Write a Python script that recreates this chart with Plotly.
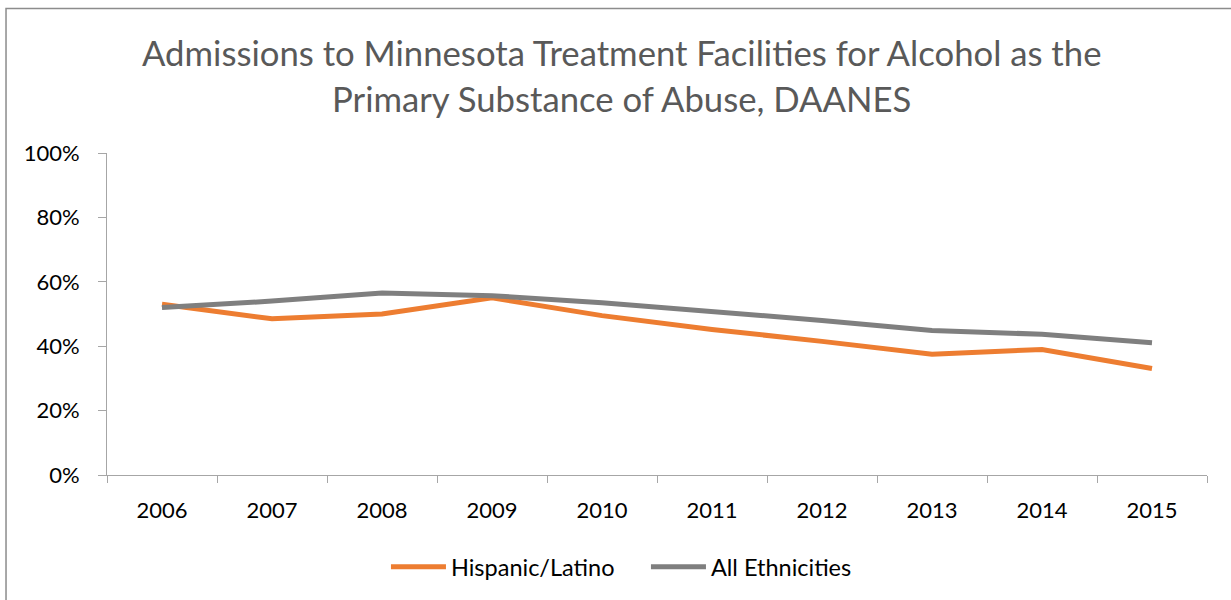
import plotly.graph_objects as go

years = ["2006", "2007", "2008", "2009", "2010", "2011", "2012", "2013", "2014", "2015"]
hispanic = [0.53, 0.485, 0.50, 0.55, 0.495, 0.452, 0.415, 0.375, 0.39, 0.331]
all_eth = [0.52, 0.54, 0.565, 0.557, 0.535, 0.509, 0.48, 0.449, 0.437, 0.411]
series_names = ["Hispanic/Latino", "All Ethnicities"]
title_lines = ["Admissions to Minnesota Treatment Facilities for Alcohol as the",
               "Primary Substance of Abuse, DAANES"]

FONT = "Lato"
fig = go.Figure()
fig.add_trace(go.Scatter(x=years, y=hispanic, mode="lines", name=series_names[0],
                         line=dict(color="#ED7D31", width=5)))
fig.add_trace(go.Scatter(x=years, y=all_eth, mode="lines", name=series_names[1],
                         line=dict(color="#7F7F7F", width=5)))

axis_col = "#A6A6A6"
fig.update_layout(
    width=1231, height=600,
    margin=dict(l=107, r=24, t=153, b=124),
    paper_bgcolor="white", plot_bgcolor="white",
    font=dict(family=FONT, size=22, color="#000000"),
    showlegend=True,
    legend=dict(orientation="h", x=0.2536, xanchor="left", y=-0.282, yanchor="middle",
                font=dict(family=FONT, size=23.5, color="#000000"),
                itemwidth=55, entrywidth=190, entrywidthmode="pixels"),
    annotations=[
        dict(text=title_lines[0], xref="paper", yref="paper", x=0.4673, y=1.3127,
             xanchor="center", yanchor="middle", showarrow=False,
             font=dict(family=FONT, size=34.7, color="#595959")),
        dict(text=title_lines[1], xref="paper", yref="paper", x=0.4673, y=1.1703,
             xanchor="center", yanchor="middle", showarrow=False,
             font=dict(family=FONT, size=34.7, color="#595959")),
    ],
    shapes=[dict(type="rect", xref="paper", yref="paper", x0=-0.0918, x1=1.04,
                 y0=-0.45, y1=1.449, line=dict(color="#8C8C8C", width=1.5),
                 fillcolor="rgba(0,0,0,0)", layer="below")],
)
fig.update_xaxes(type="category", range=[-0.5, 9.5], showgrid=False, showline=True,
                 linecolor=axis_col, linewidth=1, ticks="outside", ticklen=7,
                 tickcolor=axis_col, tickson="boundaries", ticklabelstandoff=16,
                 zeroline=False)
fig.update_yaxes(range=[0, 1], dtick=0.2, tickformat=".0%", showgrid=False,
                 showline=True, linecolor=axis_col, linewidth=1, ticks="outside",
                 ticklen=8, tickcolor=axis_col, ticklabelstandoff=14, zeroline=False)

fig.write_html("out.html", config={"displayModeBar": False},
               post_script="document.body.style.margin='0';")
